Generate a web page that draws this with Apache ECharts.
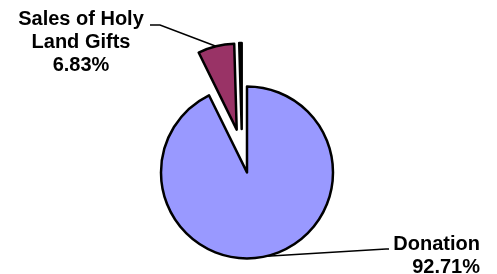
<!DOCTYPE html>
<html>
<head>
<meta charset="utf-8">
<script src="https://cdn.jsdelivr.net/npm/echarts@6/dist/echarts.min.js"></script>
<style>
  html, body { margin: 0; padding: 0; background: #fff; }
  #chart { width: 497px; height: 274px; }
</style>
</head>
<body>
<div id="chart"></div>
<script>
var names = ['Donation', 'Sales of Holy\nLand Gifts', 'Other'];
var values = [92.71, 6.83, 0.46];
var colors = ['#9999FF', '#993366', '#000000'];
var showLabel = [true, true, false];

var chart = echarts.init(document.getElementById('chart'));

// exploded pie: one series per slice, each shifted along its own bisector
var pieCenter = [242, 151];
var explode = 22;
var total = values.reduce(function (a, b) { return a + b; }, 0);

function labelLayout(p) {
  var start = p.labelLinePoints ? p.labelLinePoints[0] : null;
  if (p.dataIndex === 0) {
    return {
      x: 480, y: 233, align: 'right', verticalAlign: 'top',
      labelLinePoints: start ? [start, [386, 249], [389, 249]] : undefined
    };
  }
  if (p.dataIndex === 1) {
    return {
      x: 81, y: 8, align: 'center', verticalAlign: 'top',
      labelLinePoints: start ? [start, [160, 25], [150, 25]] : undefined
    };
  }
  return {};
}

var acc = 0;
var series = values.map(function (v, i) {
  var mid = (acc + v / 2) / total * Math.PI * 2;
  acc += v;
  return {
    type: 'pie',
    silent: true,
    center: [pieCenter[0] + explode * Math.sin(mid), pieCenter[1] - explode * Math.cos(mid)],
    radius: 86,
    startAngle: 90,
    clockwise: true,
    avoidLabelOverlap: false,
    label: {
      formatter: '{b}\n{d}%',
      fontFamily: 'Liberation Sans, Arial, sans-serif',
      fontWeight: 'bold',
      fontSize: 20,
      lineHeight: 23,
      color: '#000'
    },
    labelLine: { lineStyle: { color: '#000', width: 1.5 } },
    labelLayout: labelLayout,
    data: values.map(function (w, j) {
      var own = j === i;
      return {
        name: names[j],
        value: w,
        itemStyle: own
          ? { color: colors[j], borderColor: '#000', borderWidth: 2.5 }
          : { color: 'rgba(0,0,0,0)', borderWidth: 0 },
        label: { show: own && showLabel[j] },
        labelLine: { show: own && showLabel[j] }
      };
    })
  };
});

chart.setOption({
  animation: false,
  series: series
});
</script>
</body>
</html>
